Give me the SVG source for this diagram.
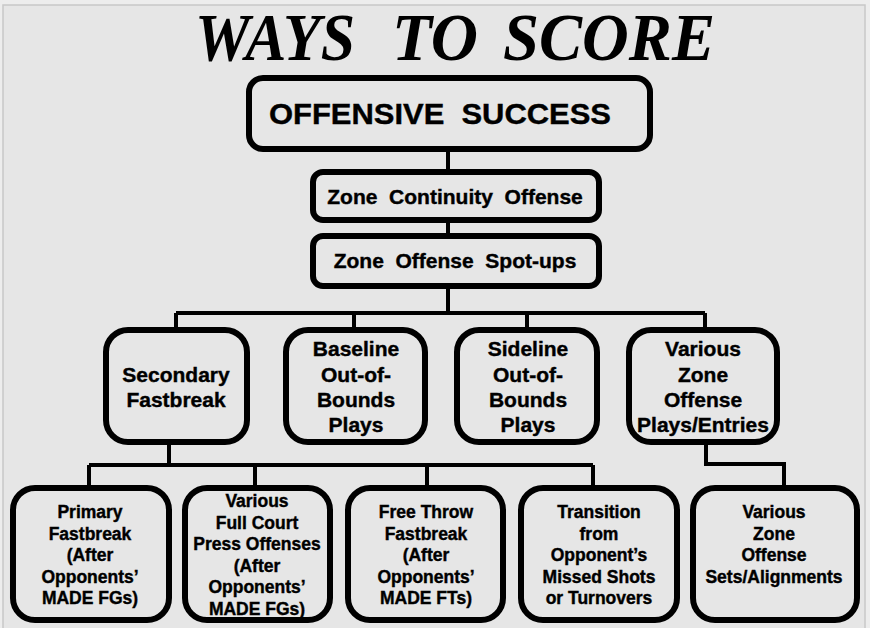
<svg xmlns="http://www.w3.org/2000/svg" width="870" height="628" viewBox="0 0 870 628">
<style>
.box{fill:#e6e6e6;stroke:#000;stroke-width:6}
.con{fill:none;stroke:#000;stroke-width:4;stroke-linejoin:miter}
.t{font-family:"Liberation Sans",Arial,sans-serif;font-weight:bold;fill:#000;stroke:#000;stroke-width:0.4;text-anchor:middle}
.m{font-size:21px}
.s{font-size:17.5px}
.title{font-family:"Liberation Serif","Times New Roman",serif;font-weight:bold;font-style:italic;font-size:67px;fill:#000}
</style>
<rect x="0" y="0" width="870" height="628" fill="#ededed"/>
<rect x="3" y="5" width="862" height="640" fill="#e6e6e6" stroke="#c8c8c8" stroke-width="1.5"/>
<text class="title"><tspan x="195" y="60" textLength="160" lengthAdjust="spacingAndGlyphs">WAYS</tspan><tspan x="392" y="60" textLength="86" lengthAdjust="spacingAndGlyphs">TO</tspan><tspan x="503" y="60" textLength="212" lengthAdjust="spacingAndGlyphs">SCORE</tspan></text>
<g id="connectors">
<path class="con" d="M448,152V172M448,223V236M448,289V313M176,313H705M176,313V330M354,313V330M527,313V330M705,313V330"/>
<path class="con" d="M169,445V465M89,465H593M89,465V488M255,465V488M427,465V488M593,465V488"/>
<path class="con" d="M706,445V464H784V488"/>
</g>
<g id="n-offensive">
<rect class="box" x="249" y="78" width="401" height="71" rx="14"/>
<text class="t" x="269" y="124" style="font-size:30px;text-anchor:start" textLength="342" lengthAdjust="spacingAndGlyphs" xml:space="preserve">OFFENSIVE  SUCCESS</text>
</g>
<g id="n-continuity">
<rect class="box" x="313" y="172" width="286" height="48" rx="10"/>
<text class="t m" x="455" y="204" xml:space="preserve">Zone  Continuity  Offense</text>
</g>
<g id="n-spotups">
<rect class="box" x="313" y="236" width="286" height="50" rx="10"/>
<text class="t m" x="455" y="268" xml:space="preserve">Zone  Offense  Spot-ups</text>
</g>
<g id="n-secondary">
<rect class="box" x="106" y="330" width="141" height="112" rx="22"/>
<text class="t m" x="176" y="382">Secondary</text>
<text class="t m" x="176" y="407">Fastbreak</text>
</g>
<g id="n-baseline">
<rect class="box" x="286" y="330" width="139" height="112" rx="22"/>
<text class="t m" x="356" y="356">Baseline</text>
<text class="t m" x="356" y="382">Out-of-</text>
<text class="t m" x="356" y="407">Bounds</text>
<text class="t m" x="356" y="432">Plays</text>
</g>
<g id="n-sideline">
<rect class="box" x="457" y="330" width="140" height="112" rx="22"/>
<text class="t m" x="528" y="356">Sideline</text>
<text class="t m" x="528" y="382">Out-of-</text>
<text class="t m" x="528" y="407">Bounds</text>
<text class="t m" x="528" y="432">Plays</text>
</g>
<g id="n-zoneplays">
<rect class="box" x="629" y="330" width="148" height="112" rx="22"/>
<text class="t m" x="703" y="356">Various</text>
<text class="t m" x="703" y="382">Zone</text>
<text class="t m" x="703" y="407">Offense</text>
<text class="t m" x="703" y="432">Plays/Entries</text>
</g>
<g id="n-primary">
<rect class="box" x="13" y="488" width="156" height="132" rx="22"/>
<text class="t s" x="90" y="518">Primary</text>
<text class="t s" x="90" y="540">Fastbreak</text>
<text class="t s" x="90" y="561">(After</text>
<text class="t s" x="90" y="583">Opponents’</text>
<text class="t s" x="90" y="604">MADE FGs)</text>
</g>
<g id="n-press">
<rect class="box" x="185" y="488" width="145" height="132" rx="22"/>
<text class="t s" x="257" y="507">Various</text>
<text class="t s" x="257" y="529">Full Court</text>
<text class="t s" x="257" y="550">Press Offenses</text>
<text class="t s" x="257" y="572">(After</text>
<text class="t s" x="257" y="593">Opponents’</text>
<text class="t s" x="257" y="615">MADE FGs)</text>
</g>
<g id="n-freethrow">
<rect class="box" x="348" y="488" width="155" height="132" rx="22"/>
<text class="t s" x="426" y="518">Free Throw</text>
<text class="t s" x="426" y="540">Fastbreak</text>
<text class="t s" x="426" y="561">(After</text>
<text class="t s" x="426" y="583">Opponents’</text>
<text class="t s" x="426" y="604">MADE FTs)</text>
</g>
<g id="n-transition">
<rect class="box" x="521" y="488" width="156" height="132" rx="22"/>
<text class="t s" x="599" y="518">Transition</text>
<text class="t s" x="599" y="540">from</text>
<text class="t s" x="599" y="561">Opponent’s</text>
<text class="t s" x="599" y="583">Missed Shots</text>
<text class="t s" x="599" y="604">or Turnovers</text>
</g>
<g id="n-sets">
<rect class="box" x="693" y="488" width="164" height="132" rx="22"/>
<text class="t s" x="774" y="518">Various</text>
<text class="t s" x="774" y="540">Zone</text>
<text class="t s" x="774" y="561">Offense</text>
<text class="t s" x="774" y="583">Sets/Alignments</text>
</g>
</svg>
